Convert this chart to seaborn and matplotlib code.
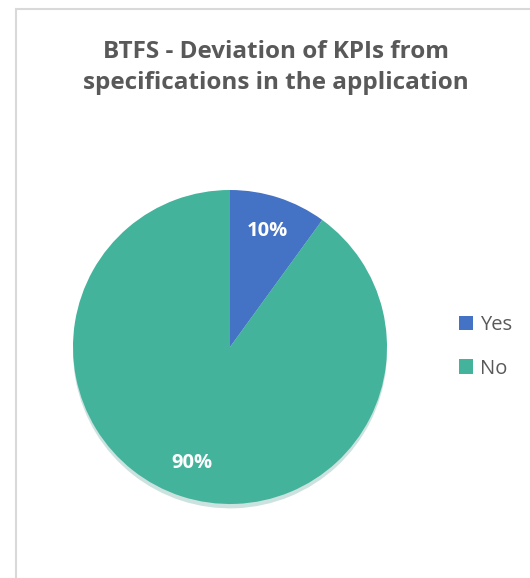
import matplotlib.pyplot as plt
import seaborn as sns
from matplotlib.patches import Rectangle

labels = ["Yes", "No"]
shares = [10, 90]
colors = ["#4472C4", "#43B39C"]
title = "BTFS - Deviation of KPIs from\nspecifications in the application"

sns.set_theme(style="white")
plt.rcParams["font.family"] = ["Open Sans", "DejaVu Sans"]
pal = sns.color_palette(colors)

fig = plt.figure(figsize=(5.30, 5.78), dpi=100)
fig.patch.set_facecolor("white")

# chart frame (only top and left visible in the reference)
fig.add_artist(Rectangle((16 / 530, -0.01), 1.0, (578 - 9) / 578 + 0.01,
                         transform=fig.transFigure, fill=False,
                         edgecolor="#D9D9D9", linewidth=1.5))

# pie: center (230, 347), radius 157 px
r = 157
ax = fig.add_axes([(230 - r) / 530, (578 - 347 - r) / 578, 2 * r / 530, 2 * r / 578])
wedges, texts, autotexts = ax.pie(
    shares, colors=pal, startangle=90, counterclock=False,
    autopct="%d%%", pctdistance=0.78,
    shadow={"ox": 0, "oy": -0.02, "shade": 0.2, "alpha": 0.25},
    textprops={"color": "white", "fontsize": 14.5, "fontweight": "bold"},
    wedgeprops={"linewidth": 0},
)
ax.set_aspect("equal")
ax.set_xlim(-1, 1)
ax.set_ylim(-1, 1)
ax.axis("off")

fig.text(0.52, 0.883, title, ha="center", va="center", fontsize=17.5,
         fontweight="bold", color="#595959", linespacing=1.35)

leg = fig.legend(wedges, labels, loc="center left",
                 bbox_to_anchor=(441 / 530, 1 - 347 / 578), frameon=False,
                 fontsize=14.5, handlelength=0.7, handleheight=0.7,
                 labelspacing=1.15, handletextpad=0.35)
for t in leg.get_texts():
    t.set_color("#595959")

fig.savefig("out.png", dpi=100, facecolor="white")
